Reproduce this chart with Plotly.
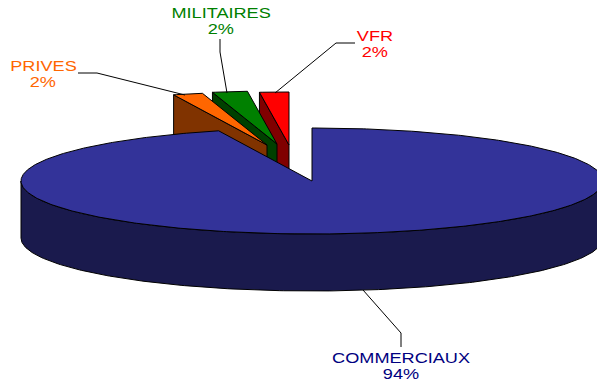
import numpy as np
import plotly.graph_objects as go

categories = ["COMMERCIAUX", "PRIVES", "MILITAIRES", "VFR"]
values = [94.8, 1.64, 1.94, 1.62]
percent_labels = ["94%", "2%", "2%", "2%"]

top_colors = ["#333399", "#ff6600", "#008000", "#ff0000"]
wall_colors = ["#1a1a4d", "#803300", "#004000", "#800000"]
text_colors = ["#000080", "#ff6600", "#008000", "#ff0000"]
explode = [(0, 0), (-45, -36), (-35, -37), (-23, -36)]
label_pos = [(401, 365), (43, 73), (221, 20), (375, 43)]
leaders = [
    [(363, 290), (401, 333), (401, 347)],
    [(78, 73), (97, 73), (185, 95)],
    [(220, 39), (220, 52), (227, 93)],
    [(355, 43), (336, 43), (275, 93)],
]

CX, CY, RX, RY, DEPTH = 312, 181, 291, 53, 57
FONT = "Liberation Sans"
LINE_GAP = 8

total = sum(values)
edges = np.cumsum([0] + values) / total * 2 * np.pi


def arc(a0, a1, ox=0, oy=0, dz=0, n=240):
    t = np.linspace(a0, a1, n)
    return CX + ox + RX * np.sin(t), CY + oy + dz - RY * np.cos(t)


fig = go.Figure()


def poly(x, y, fill):
    fig.add_trace(go.Scatter(
        x=list(x) + [x[0]], y=list(y) + [y[0]], mode="lines", fill="toself",
        fillcolor=fill, line=dict(color="black", width=1),
        hoverinfo="skip", showlegend=False))


# exploded slices, furthest first
for i in (3, 2, 1):
    a0, a1 = edges[i], edges[i + 1]
    ox, oy = explode[i]
    tx, ty = CX + ox, CY + oy
    ax, ay = arc(a0, a1, ox, oy, n=12)
    poly([ax[0], tx, tx, ax[0]], [ay[0], ty, ty + DEPTH, ay[0] + DEPTH], wall_colors[i])
    poly([tx] + list(ax), [ty] + list(ay), top_colors[i])

# main slice: front wall then top face
bx, by = arc(np.pi / 2, 3 * np.pi / 2, dz=DEPTH)
fx, fy = arc(np.pi / 2, 3 * np.pi / 2)
poly(list(fx) + list(bx[::-1]), list(fy) + list(by[::-1]), wall_colors[0])
ax, ay = arc(edges[0], edges[1], n=600)
poly([CX] + list(ax), [CY] + list(ay), top_colors[0])

# leader lines
for pts in leaders:
    fig.add_trace(go.Scatter(
        x=[p[0] for p in pts], y=[p[1] for p in pts], mode="lines",
        line=dict(color="black", width=1), hoverinfo="skip", showlegend=False))

for cat, pct, pos, col in zip(categories, percent_labels, label_pos, text_colors):
    for txt, dy in ((cat, -LINE_GAP), (pct, LINE_GAP)):
        fig.add_annotation(
            x=pos[0], y=pos[1] + dy, text=txt, showarrow=False,
            font=dict(family=FONT, size=15, color=col), align="center",
            xanchor="center", yanchor="middle")

fig.update_xaxes(range=[0, 597], visible=False, fixedrange=True)
fig.update_yaxes(range=[385, 0], visible=False, fixedrange=True)
fig.update_layout(
    width=597, height=385, margin=dict(l=0, r=0, t=0, b=0),
    paper_bgcolor="white", plot_bgcolor="white", showlegend=False)

post = """
document.body.style.margin='0';
document.documentElement.style.overflow='hidden';
var s=document.createElement('style');
s.textContent='.annotation-text{transform-box:fill-box;transform-origin:center;transform:scaleX(1.21);}';
document.head.appendChild(s);
"""
fig.write_html("out.html", config={"displayModeBar": False}, post_script=post)
